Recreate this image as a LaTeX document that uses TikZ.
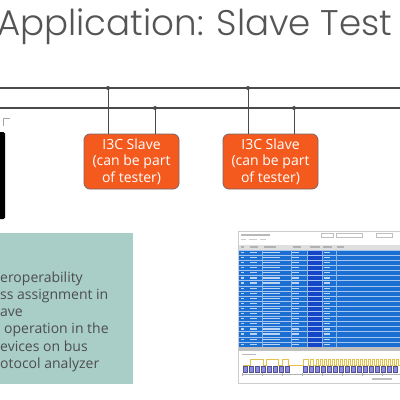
\documentclass[tikz,border=0pt]{standalone}
\usepackage{fontspec}
\setmainfont{Open Sans}
\newfontfamily\titlefont{Poppins Light}
\usetikzlibrary{calc}
\definecolor{titlegray}{HTML}{555555}
\definecolor{busgray}{HTML}{4A4A4A}
\definecolor{slaveorange}{HTML}{F45A1E}
\definecolor{slaveedge}{HTML}{7A6666}
\definecolor{tealbox}{HTML}{A9CEC8}
\definecolor{bodygray}{HTML}{4D4D4D}
\definecolor{selblue}{HTML}{1C6FD2}
\definecolor{darkblue}{HTML}{1646C8}
\definecolor{wavey}{HTML}{E2C24A}
\definecolor{wavep}{HTML}{8A8AE6}
\tikzset{
  busline/.style={draw=busgray, line width=1.1pt},
  busdot/.style={circle, fill=busgray, inner sep=0pt, minimum size=4pt},
  drop/.style={draw=busgray, line width=0.9pt},
  slavebox/.style={draw=slaveedge, line width=0.8pt, fill=slaveorange, rounded corners=6pt,
    minimum width=95pt, minimum height=55pt, inner sep=0pt, text=white, align=center,
    font=\fontsize{14}{16.5}\selectfont},
  bodytext/.style={anchor=base west, inner sep=0pt, text=bodygray, font=\fontsize{14}{17}\selectfont},
}
\begin{document}
\begin{tikzpicture}[x=1pt,y=-1pt]
\useasboundingbox (0,0) rectangle (400,400);
\fill[white] (0,0) rectangle (400,400);
\begin{scope}
\clip (0,0) rectangle (400,400);
% title
\node[anchor=base west, inner sep=0pt, text=titlegray] (title) at (-3,35)
  {\resizebox{395pt}{!}{\titlefont\fontsize{36}{40}\selectfont Application: Slave Test}};
% bus
\coordinate (b1l) at (0,88); \coordinate (b1r) at (400,88);
\coordinate (b2l) at (0,108); \coordinate (b2r) at (400,108);
\draw[busline] (b1l) -- (b1r);
\draw[busline] (b2l) -- (b2r);
% slaves
\node[slavebox] (s1) at (131.5,161.5) {I3C Slave\\(can be part\\of tester)};
\node[slavebox] (s2) at (270.5,161.5) {I3C Slave\\(can be part\\of tester)};
\node[busdot] (d1) at (108,88) {};
\node[busdot] (d2) at (155,108) {};
\node[busdot] (d3) at (248,88) {};
\node[busdot] (d4) at (294,108) {};
\draw[drop] (d1.center) -- (d1.center |- s1.north);
\draw[drop] (d2.center) -- (d2.center |- s1.north);
\draw[drop] (d3.center) -- (d3.center |- s2.north);
\draw[drop] (d4.center) -- (d4.center |- s2.north);
% left device
\draw[draw=gray!70, line width=0.6pt] (3,126) -- (3,118) -- (10,118);
\fill[black, rounded corners=1.5pt] (-4,132) rectangle (5,219);
% teal box
\fill[tealbox] (-2,233) rectangle (133,384);
\node[bodytext] (t1) at (0,282) {eroperability};
\node[bodytext] (t2) at (0,299.3) {ss assignment in};
\node[bodytext] (t3) at (0,316.6) {ave};
\node[bodytext] (t4) at (4,333.9) {operation in the};
\node[bodytext] (t5) at (0,351.2) {evices on bus};
\node[bodytext] (t6) at (0,368.5) {otocol analyzer};
% screenshot
\fill[white] (238,231) rectangle (401,383);
\draw[gray!40, line width=0.4pt] (238,231) rectangle (401,383);
\fill[gray!55] (241,233.5) rectangle (270,235.5);
\fill[gray!40] (241,238.5) rectangle (246,240);
\fill[gray!40] (249,238.5) rectangle (257,240);
\fill[gray!40] (260,238.5) rectangle (266,240);
\draw[gray!50, line width=0.4pt] (321,233) rectangle (333,237);
\draw[gray!50, line width=0.4pt] (336,233) rectangle (362,237);
\draw[gray!50, line width=0.4pt] (376,233) rectangle (392,237);
\fill[gray!25] (239,244.5) rectangle (400,249.5);
\foreach \x/\w in {241/3,250/8,264/12,293/8,310/10,323/9,337/7}
  \fill[gray!60] (\x,246.3) rectangle ++(\w,1.3);
\fill[selblue] (239,250) rectangle (401,347);
\fill[darkblue] (308,250) rectangle (322,347);
\foreach \i in {0,...,18} {
  \draw[white!60!selblue, line width=0.25pt] (239,{250+5.1*\i}) -- (401,{250+5.1*\i});
  \fill[white!70!selblue] (241,{251.8+5.1*\i}) rectangle ++(3,1.2);
  \fill[white!70!selblue] (250,{251.8+5.1*\i}) rectangle ++(7,1.2);
  \fill[white!70!selblue] (263,{251.8+5.1*\i}) rectangle ++(17,1.2);
  \fill[white!70!selblue] (292,{251.8+5.1*\i}) rectangle ++(7,1.2);
  \fill[white!70!selblue] (324,{251.8+5.1*\i}) rectangle ++(6,1.2);
}
\foreach \x in {262,291,307,322,336}
  \draw[white!50!selblue, line width=0.25pt] (\x,250) -- (\x,347);
\fill[gray!50] (239,347) rectangle (401,351);
\fill[gray!55] (242,353.5) rectangle (256,355);
% waveform
\draw[wavey, line width=0.5pt]
  (243,365) -- (250,365) -- (250,359) -- (263,359) -- (263,365) -- (266,365) -- (266,359)
  -- (278,359) -- (278,365) -- (282,365) -- (282,359) -- (288,359) -- (288,365)
  -- (303,365) -- (303,359) -- (308,359) -- (308,365) -- (310,365) -- (310,359)
  -- (313,359) -- (313,365) -- (316,365) -- (316,359);
\foreach \x in {316,320,...,396}
  \draw[wavey, line width=0.5pt] (\x,359) -- (\x+2,359) -- (\x+2,365) -- (\x+4,365) -- (\x+4,359);
\foreach \x in {243,249,...,288}
  \filldraw[fill=wavep, draw=wavep!60!black, line width=0.3pt] (\x,366) rectangle ++(4.6,6);
\foreach \x in {303,309,...,398}
  \filldraw[fill=wavep, draw=wavep!60!black, line width=0.3pt] (\x,366) rectangle ++(4.6,6);
\draw[gray!60, line width=0.4pt] (242,374) -- (400,374);
\foreach \x in {242,262,282,302,322,342,362,382}
  \draw[gray!60, line width=0.4pt] (\x,373) -- (\x,375.5);
\fill[gray!50] (372,378) rectangle (392,379.5);
\end{scope}
\end{tikzpicture}
\end{document}
